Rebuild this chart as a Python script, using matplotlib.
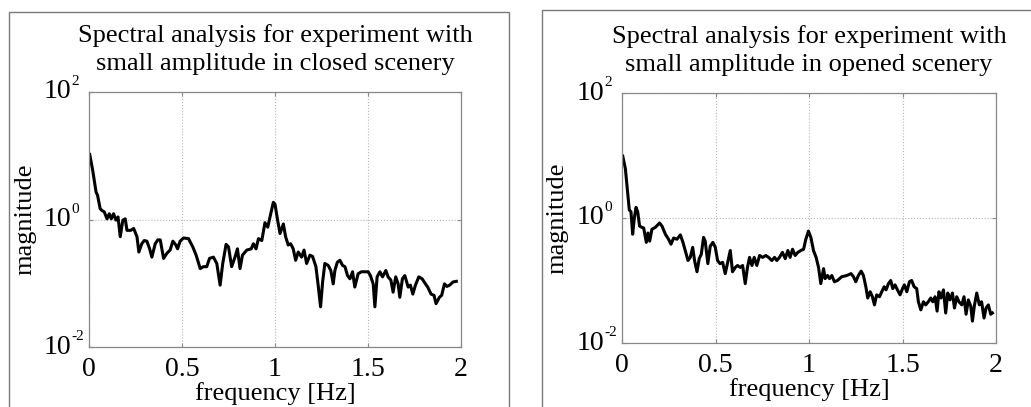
#!/usr/bin/env python3
import matplotlib
matplotlib.use("Agg")
import numpy as np
import matplotlib.pyplot as plt
from matplotlib.patches import Rectangle

# closed scenery: frequency [Hz] and log10(magnitude)
freq_closed = [
    0.004, 0.02, 0.038, 0.046, 0.06, 0.07, 0.082, 0.097, 0.109, 0.12, 0.132,
    0.145, 0.156, 0.168, 0.182, 0.195, 0.204, 0.225, 0.24, 0.258, 0.268,
    0.284, 0.297, 0.311, 0.326, 0.338, 0.356, 0.37, 0.383, 0.401, 0.419,
    0.436, 0.451, 0.467, 0.476, 0.49, 0.508, 0.535, 0.558, 0.576, 0.598,
    0.615, 0.633, 0.648, 0.669, 0.687, 0.705, 0.719, 0.737, 0.75, 0.767,
    0.785, 0.798, 0.812, 0.825, 0.848, 0.872, 0.884, 0.898, 0.911, 0.929,
    0.946, 0.961, 0.977, 0.991, 1.0, 1.014, 1.027, 1.045, 1.057, 1.071,
    1.084, 1.098, 1.111, 1.125, 1.143, 1.156, 1.17, 1.188, 1.202, 1.22,
    1.232, 1.245, 1.256, 1.268, 1.286, 1.3, 1.313, 1.322, 1.335, 1.349,
    1.363, 1.376, 1.39, 1.403, 1.417, 1.429, 1.447, 1.465, 1.483, 1.501,
    1.513, 1.528, 1.537, 1.549, 1.564, 1.578, 1.596, 1.608, 1.623, 1.635,
    1.649, 1.662, 1.671, 1.685, 1.698, 1.716, 1.728, 1.741, 1.755, 1.773,
    1.791, 1.809, 1.821, 1.839, 1.855, 1.866, 1.884, 1.896, 1.911, 1.924,
    1.939, 1.957, 1.975,
]
logmag_closed = [
    1.02, 0.77, 0.43, 0.38, 0.17, 0.14, 0.12, 0.01, 0.09, 0.01, 0.09,
    -0.01, 0.04, -0.27, -0.01, 0.01, -0.17, -0.17, -0.14, -0.27, -0.51,
    -0.38, -0.33, -0.34, -0.46, -0.59, -0.38, -0.32, -0.32, -0.61, -0.53,
    -0.48, -0.34, -0.40, -0.46, -0.34, -0.29, -0.30, -0.43, -0.56, -0.77,
    -0.74, -0.74, -0.61, -0.59, -0.69, -1.03, -0.69, -0.39, -0.43, -0.74,
    -0.59, -0.46, -0.77, -0.56, -0.48, -0.46, -0.38, -0.46, -0.30, -0.33,
    -0.05, -0.12, 0.09, 0.27, 0.24, -0.01, -0.22, -0.07, -0.27, -0.40,
    -0.38, -0.46, -0.64, -0.51, -0.59, -0.48, -0.69, -0.56, -0.58, -0.74,
    -1.03, -1.37, -0.98, -0.69, -0.72, -0.80, -1.01, -0.80, -0.67, -0.64,
    -0.72, -0.74, -0.88, -0.93, -0.82, -1.06, -0.85, -0.82, -0.82, -0.82,
    -0.88, -1.01, -1.37, -0.90, -0.82, -0.90, -0.80, -0.90, -0.95, -1.14,
    -0.90, -1.01, -1.22, -0.93, -0.88, -1.06, -1.03, -1.17, -1.03, -0.90,
    -0.93, -1.01, -1.06, -1.17, -1.19, -1.32, -1.22, -1.19, -1.01, -1.05,
    -1.03, -0.98, -0.97,
]

# opened scenery
freq_opened = [
    0.004, 0.018, 0.03, 0.039, 0.048, 0.057, 0.066, 0.075, 0.084, 0.094,
    0.107, 0.116, 0.13, 0.139, 0.148, 0.16, 0.178, 0.201, 0.214, 0.232,
    0.249, 0.262, 0.276, 0.294, 0.312, 0.326, 0.338, 0.353, 0.365, 0.378,
    0.388, 0.401, 0.413, 0.424, 0.436, 0.445, 0.459, 0.472, 0.486, 0.499,
    0.511, 0.524, 0.538, 0.552, 0.565, 0.579, 0.591, 0.606, 0.618, 0.632,
    0.645, 0.659, 0.671, 0.682, 0.695, 0.707, 0.721, 0.736, 0.752, 0.769,
    0.784, 0.801, 0.816, 0.828, 0.842, 0.858, 0.873, 0.887, 0.899, 0.912,
    0.926, 0.94, 0.956, 0.971, 0.983, 0.997, 1.01, 1.024, 1.038, 1.051,
    1.063, 1.078, 1.086, 1.099, 1.11, 1.122, 1.136, 1.152, 1.175, 1.202,
    1.225, 1.238, 1.25, 1.264, 1.279, 1.291, 1.304, 1.314, 1.327, 1.339,
    1.35, 1.362, 1.377, 1.389, 1.402, 1.412, 1.425, 1.437, 1.448, 1.46,
    1.473, 1.487, 1.5, 1.51, 1.523, 1.537, 1.549, 1.562, 1.576, 1.585,
    1.598, 1.612, 1.624, 1.638, 1.651, 1.662, 1.674, 1.685, 1.695, 1.706,
    1.719, 1.731, 1.742, 1.754, 1.767, 1.778, 1.79, 1.802, 1.817, 1.829,
    1.84, 1.852, 1.865, 1.874, 1.884, 1.897, 1.911, 1.923, 1.936, 1.947,
    1.959, 1.972, 1.981,
]
logmag_opened = [
    0.99, 0.79, 0.42, 0.13, 0.10, -0.26, 0.0, 0.17, 0.10, -0.13,
    -0.15, -0.16, -0.39, -0.24, -0.37, -0.18, -0.15, -0.08, -0.13, -0.26,
    -0.34, -0.42, -0.32, -0.34, -0.27, -0.39, -0.52, -0.68, -0.63, -0.47,
    -0.68, -0.86, -0.65, -0.58, -0.31, -0.37, -0.73, -0.45, -0.39, -0.47,
    -0.68, -0.73, -0.71, -0.89, -0.71, -0.52, -0.86, -0.79, -0.76, -0.79,
    -0.76, -1.05, -0.79, -0.63, -0.76, -0.63, -0.76, -0.60, -0.63, -0.60,
    -0.63, -0.68, -0.63, -0.68, -0.63, -0.55, -0.65, -0.52, -0.63, -0.50,
    -0.60, -0.55, -0.52, -0.50, -0.34, -0.21, -0.31, -0.52, -0.63, -0.79,
    -1.05, -0.81, -0.97, -0.92, -0.97, -0.92, -1.02, -1.00, -0.94, -0.92,
    -0.89, -0.94, -1.02, -0.92, -0.85, -0.92, -1.10, -1.28, -1.18, -1.26,
    -1.39, -1.23, -1.26, -1.18, -1.10, -1.15, -1.05, -1.00, -1.13, -1.07,
    -1.15, -1.23, -1.13, -1.07, -1.18, -1.02, -1.00, -1.10, -1.13, -1.34,
    -1.47, -1.34, -1.39, -1.34, -1.28, -1.34, -1.26, -1.49, -1.18, -1.28,
    -1.15, -1.52, -1.20, -1.31, -1.20, -1.44, -1.26, -1.34, -1.39, -1.26,
    -1.54, -1.31, -1.41, -1.65, -1.41, -1.20, -1.39, -1.34, -1.60, -1.44,
    -1.39, -1.54, -1.52,
]

titles = [
    "Spectral analysis for experiment with\nsmall amplitude in closed scenery",
    "Spectral analysis for experiment with\nsmall amplitude in opened scenery",
]
x_ticks = [0, 0.5, 1, 1.5, 2]
x_tick_labels = ["0", "0.5", "1", "1.5", "2"]
y_ticks = [1e-2, 1e0, 1e2]
y_exponents = ["-2", "0", "2"]

plt.rcParams.update({
    "font.family": ["Liberation Serif", "DejaVu Serif"],
    "font.size": 20,
})

W, H = 1031, 407
fig = plt.figure(figsize=(W / 100, H / 100), dpi=100)

# frames around each panel (pixel boxes: left, top, right, bottom)
frames = [(9, 12, 509, 420), (542, 10, 1040, 420)]
for l, t, r, b in frames:
    fig.patches.append(Rectangle(
        (l / W, 1 - b / H), (r - l) / W, (b - t) / H,
        transform=fig.transFigure, fill=False, edgecolor="#7a7a7a",
        linewidth=1.0, clip_on=False,
    ))

# axes boxes in pixels: left, top, right, bottom
boxes = [(89, 92, 461, 347), (622, 93, 996, 343)]
data = [(freq_closed, logmag_closed), (freq_opened, logmag_opened)]

for (l, t, r, b), (f, lm), title in zip(boxes, data, titles):
    ax = fig.add_axes([l / W, 1 - b / H, (r - l) / W, (b - t) / H])
    ax.plot(f, 10 ** np.array(lm), color="black", linewidth=2.2)
    ax.set_yscale("log")
    ax.set_xlim(0, 2)
    ax.set_ylim(1e-2, 1e2)
    ax.set_xticks(x_ticks)
    ax.set_xticklabels(x_tick_labels)
    ax.set_yticks(y_ticks)
    ax.set_yticklabels([])
    ax.yaxis.set_minor_locator(matplotlib.ticker.NullLocator())
    ax.grid(True, linestyle=":", color="#b8b8b8", linewidth=0.8)
    ax.tick_params(direction="in", length=3, color="#888888", pad=7,
                   labelsize=20, top=True, right=True)
    for s in ax.spines.values():
        s.set_color("#888888")
        s.set_linewidth(0.9)

    # MATLAB-like 10^n labels with a small exponent
    ytr = ax.get_yaxis_transform()
    for yv, ex in zip(y_ticks, y_exponents):
        ax.annotate("10", xy=(0, yv), xycoords=ytr, xytext=(-13, 0),
                    textcoords="offset points", ha="right", va="center",
                    fontsize=20)
        ax.annotate(ex, xy=(0, yv), xycoords=ytr, xytext=(-12.5, 12),
                    textcoords="offset points", ha="left", va="top",
                    fontsize=11)

    ax.set_title(title, fontsize=19, linespacing=1.32, pad=16)
    ax.set_xlabel("frequency [Hz]", fontsize=19, labelpad=0)
    ax.set_ylabel("magnitude", fontsize=19)
    ax.yaxis.set_label_coords(-0.142, 0.5)

fig.savefig("out.png", dpi=100)
